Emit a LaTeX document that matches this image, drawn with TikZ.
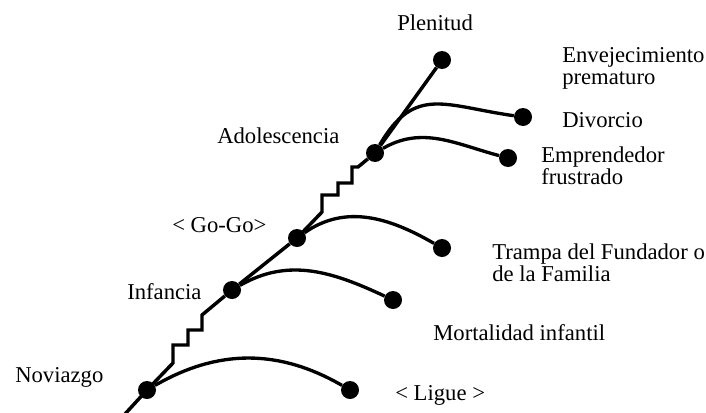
\documentclass[tikz,border=0pt]{standalone}
\usepackage{fontspec}
\setmainfont{Liberation Serif}
\tikzset{
  stage/.style={circle,fill=black,inner sep=0pt,minimum size=13.5pt},
  lbl/.style={inner sep=0pt,anchor=north west,align=left,
              font=\fontsize{17}{16.5}\selectfont},
  trunk/.style={line width=2.6pt,line join=miter},
  branch/.style={line width=2.5pt}}
\begin{document}
\begin{tikzpicture}[x=0.75pt,y=0.75pt]
  \useasboundingbox (0,0) rectangle (706,412);
  \node[stage] (nov) at (147,22) {};
  \node[stage] (inf) at (232,122) {};
  \node[stage] (gog) at (297,174) {};
  \node[stage] (ado) at (375,259) {};
  \node[stage] (ple) at (442,352) {};
  \node[stage] (lig) at (350,22) {};
  \node[stage] (mor) at (393,112) {};
  \node[stage] (tra) at (442,164) {};
  \node[stage] (emp) at (508,254) {};
  \node[stage] (div) at (523,295) {};
  \coordinate (origin) at (125,-2);

  \node[lbl] (novl) at (15,45) {Noviazgo};
  \node[lbl] (infl) at (127,129) {Infancia};
  \node[lbl] (gogl) at (172,195) {< Go-Go>};
  \node[lbl] (adol) at (217,284) {Adolescencia};
  \node[lbl] (plel) at (397,397) {Plenitud};
  \node[lbl] (envl) at (562,365) {Envejecimiento\\prematuro};
  \node[lbl] (divl) at (562,300) {Divorcio};
  \node[lbl] (empl) at (541,265) {Emprendedor\\frustrado};
  \node[lbl] (tral) at (492,168) {Trampa del Fundador o\\de la Familia};
  \node[lbl] (morl) at (433,88) {Mortalidad infantil};
  \node[lbl] (ligl) at (395,27) {< Ligue >};

  \draw[trunk] (origin) -- (nov.center);
  \draw[trunk] (nov.center) -- ++(26,27) -- ++(0,18) -- ++(15,0) -- ++(0,15)
    -- ++(14,0) -- ++(0,15) -- (inf);
  \draw[trunk] (inf) -- (gog);
  \draw[trunk] (gog.center) -- ++(25,26) -- ++(0,17) -- ++(16,0) -- ++(0,12)
    -- ++(14,0) -- ++(0,16) -- ++(6,0) -- (ado);
  \draw[trunk] (ado) -- (ple);
  \draw[branch] (nov) to[out=30,in=150] (lig);
  \draw[branch] (inf) to[out=30,in=155] (mor);
  \draw[branch] (gog) to[out=35,in=150] (tra);
  \draw[branch] (ado) to[out=30,in=165] (emp);
  \draw[branch] (ado) to[out=60,in=172,looseness=1.3] (div);
\end{tikzpicture}
\end{document}
